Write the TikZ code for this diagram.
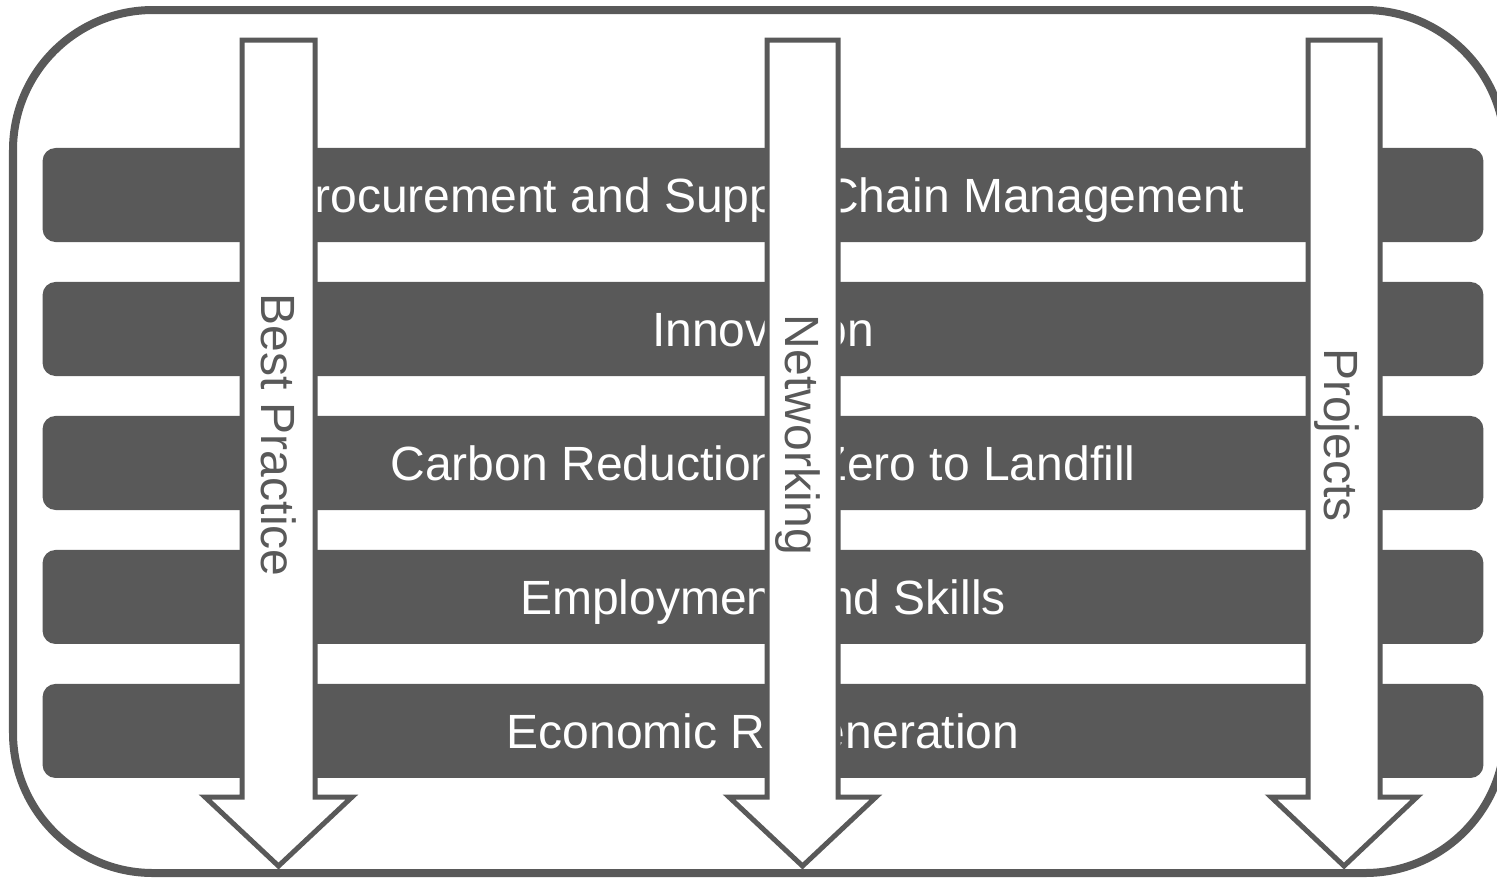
\documentclass[tikz,border=0pt]{standalone}
\usepackage{fontspec}
\setmainfont{Liberation Sans}
\usetikzlibrary{positioning}
\definecolor{darkgrey}{HTML}{595959}

\begin{document}
\begin{tikzpicture}[
    x=0.01cm, y=-0.01cm,
    node distance=0.385cm,
    outerbox/.style={draw=darkgrey, line width=0.08cm, rounded corners=1.4cm},
    rowbar/.style={
        rectangle, fill=darkgrey, rounded corners=0.13cm, text=white,
        font=\fontsize{13.66pt}{16pt}\selectfont, inner sep=0pt,
        minimum width=14.4cm, minimum height=0.94cm,
        text height=0.444cm, text depth=0.1cm
    },
    blockarrow/.style={draw=darkgrey, fill=white, line width=0.05cm, line join=miter},
    arrowtext/.style={
        rotate=-90, text=darkgrey, inner sep=0pt,
        font=\fontsize{13.66pt}{16pt}\selectfont,
        text height=0.444cm, text depth=0.1cm
    }
]
    \useasboundingbox (0,0) rectangle (1497,878);
    \clip (0,0) rectangle (1497,878);

    \draw[outerbox] (13,10) rectangle (1505,873);

    % the five themes
    \node[rowbar] (procurement) at (763,195) {Procurement and Supply Chain Management};
    \node[rowbar, below=of procurement] (innovation) {Innovation};
    \node[rowbar, below=of innovation] (carbon) {Carbon Reduction / Zero to Landfill};
    \node[rowbar, below=of carbon] (employment) {Employment and Skills};
    \node[rowbar, below=of employment] (economic) {Economic Regeneration};

    % the three arrows across them
    \draw[blockarrow] (242,40) -- (315,40) -- (315,797) -- (352,797) -- (278.5,866)
        -- (205,797) -- (242,797) -- cycle;
    \node[arrowtext] (bestpractice) at (278.5,435) {Best Practice};

    \draw[blockarrow] (767,40) -- (838,40) -- (838,797) -- (876,797) -- (802.5,866)
        -- (729,797) -- (767,797) -- cycle;
    \node[arrowtext] (networking) at (802.5,435) {Networking};

    \draw[blockarrow] (1308,40) -- (1380,40) -- (1380,797) -- (1417,797) -- (1344,866)
        -- (1271,797) -- (1308,797) -- cycle;
    \node[arrowtext] (projects) at (1342,435) {Projects};
\end{tikzpicture}
\end{document}
